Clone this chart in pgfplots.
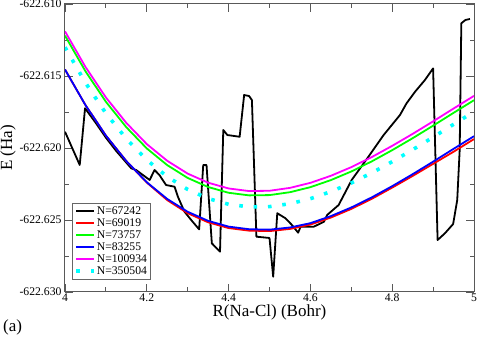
\documentclass[border=0pt]{standalone}
\usepackage{fontspec}
\setmainfont{Liberation Serif}
\usepackage{pgfplots}
\pgfplotsset{compat=1.18}
\definecolor{mag}{RGB}{255,0,255}
\definecolor{cyn}{RGB}{0,255,255}
\definecolor{grn}{RGB}{0,255,0}

% energies are kept as (E + 622.62 Ha) * 1000, i.e. mHa above -622.62 Ha,
% so that the tiny differences survive pgfplots' number precision
\begin{document}
\begin{tikzpicture}
\begin{axis}[
  at={(0,0)}, anchor=south west,
  width=409pt, height=288pt, scale only axis,
  xmin=4, xmax=5, ymin=-10, ymax=10,
  xtick={4,4.2,4.4,4.6,4.8,5}, xticklabels={4,4.2,4.4,4.6,4.8,5},
  ytick={-10,-5,0,5,10},
  yticklabels={-622.630,-622.625,-622.620,-622.615,-622.610},
  minor x tick num=1, minor y tick num=1,
  tick align=inside, major tick length=8pt, minor tick length=4.5pt,
  axis line style={black!65, line width=1pt},
  tick style={black!65, line width=0.8pt},
  ticklabel style={font=\fontsize{11.7}{13}\selectfont},
  xticklabel style={yshift=2pt},
  xlabel={R(Na-Cl) (Bohr)}, ylabel={E (Ha)},
  label style={font=\fontsize{17}{19}\selectfont},
  xlabel style={at={(axis description cs:0.5,-0.0834)}, anchor=base},
  ylabel style={at={(axis description cs:-0.1394,0.5)}, anchor=center},
  legend style={at={(axis description cs:0.018,0.044)}, anchor=south west,
    draw=black!60, line width=0.6pt, fill=white, inner sep=2pt, row sep=0pt,
    font=\fontsize{11.7}{12}\selectfont,
    nodes={inner sep=1.5pt, text height=8pt, text depth=1pt}},
  legend cell align=left,
  every axis plot/.append style={line width=1.8pt, line join=round},
]
\addplot[black] coordinates {
 (4.000,1.13) (4.036,-1.18) (4.049,2.76) (4.075,1.75) (4.100,0.72) (4.125,-0.20)
 (4.150,-1.02) (4.162,-1.41) (4.174,-1.53) (4.207,-2.22) (4.219,-1.53) (4.231,-1.88)
 (4.247,-2.57) (4.268,-2.69) (4.276,-3.38) (4.292,-4.42) (4.310,-5.05) (4.328,-5.65)
 (4.338,-1.18) (4.346,-1.18) (4.359,-6.62) (4.379,-7.20) (4.387,1.25) (4.397,0.90)
 (4.427,0.78) (4.438,3.68) (4.450,3.61) (4.457,3.33) (4.468,-6.16) (4.483,-6.20)
 (4.500,-6.25) (4.509,-8.94) (4.519,-4.53) (4.539,-4.88) (4.555,-5.35) (4.570,-5.88)
 (4.576,-5.47) (4.608,-5.47) (4.633,-5.12) (4.641,-4.65) (4.669,-3.96) (4.701,-2.22)
 (4.742,-0.60) (4.779,0.90) (4.819,2.29) (4.835,3.10) (4.856,3.91) (4.880,4.72)
 (4.900,5.53) (4.911,-6.39) (4.929,-5.92) (4.949,-5.28) (4.959,-3.61) (4.965,-0.14)
 (4.969,8.66) (4.979,8.89) (4.990,8.96)};
\addlegendentry{N=67242}
\addplot[red] coordinates {
 (4.00,5.45) (4.05,2.98) (4.10,0.86) (4.15,-0.91) (4.20,-2.40) (4.25,-3.62)
 (4.30,-4.53) (4.35,-5.16) (4.40,-5.56) (4.45,-5.74) (4.50,-5.77) (4.55,-5.62)
 (4.60,-5.32) (4.65,-4.83) (4.70,-4.23) (4.75,-3.53) (4.80,-2.75) (4.85,-1.94)
 (4.90,-1.10) (4.95,-0.26) (5.00,0.62)};
\addlegendentry{N=69019}
\addplot[grn] coordinates {
 (4.00,7.80) (4.05,5.33) (4.10,3.21) (4.15,1.44) (4.20,-0.03) (4.25,-1.19)
 (4.30,-2.08) (4.35,-2.71) (4.40,-3.11) (4.45,-3.29) (4.50,-3.27) (4.55,-3.07)
 (4.60,-2.72) (4.65,-2.23) (4.70,-1.63) (4.75,-0.93) (4.80,-0.15) (4.85,0.68)
 (4.90,1.55) (4.95,2.44) (5.00,3.32)};
\addlegendentry{N=73757}
\addplot[blue] coordinates {
 (4.00,5.45) (4.05,2.98) (4.10,0.86) (4.15,-0.91) (4.20,-2.38) (4.25,-3.54)
 (4.30,-4.43) (4.35,-5.06) (4.40,-5.46) (4.45,-5.64) (4.50,-5.67) (4.55,-5.52)
 (4.60,-5.22) (4.65,-4.73) (4.70,-4.13) (4.75,-3.43) (4.80,-2.65) (4.85,-1.82)
 (4.90,-0.95) (4.95,-0.06) (5.00,0.82)};
\addlegendentry{N=83255}
\addplot[mag] coordinates {
 (4.00,8.10) (4.05,5.63) (4.10,3.51) (4.15,1.74) (4.20,0.27) (4.25,-0.89)
 (4.30,-1.78) (4.35,-2.41) (4.40,-2.81) (4.45,-2.99) (4.50,-2.97) (4.55,-2.77)
 (4.60,-2.42) (4.65,-1.93) (4.70,-1.33) (4.75,-0.63) (4.80,0.15) (4.85,0.98)
 (4.90,1.85) (4.95,2.74) (5.00,3.62)};
\addlegendentry{N=100934}
\addplot[cyn, line width=3.6pt, dash pattern=on 3.6pt off 10.8pt] coordinates {
 (4.00,7.00) (4.05,4.53) (4.10,2.41) (4.15,0.64) (4.20,-0.83) (4.25,-1.99)
 (4.30,-2.88) (4.35,-3.51) (4.40,-3.91) (4.45,-4.09) (4.50,-4.07) (4.55,-3.87)
 (4.60,-3.52) (4.65,-3.03) (4.70,-2.43) (4.75,-1.73) (4.80,-0.95) (4.85,-0.12)
 (4.90,0.75) (4.95,1.64) (5.00,2.52)};
\addlegendentry{N=350504}
\end{axis}
\node[anchor=base west, font=\fontsize{17}{19}\selectfont, inner sep=0pt]
  at (-62pt,-40pt) {(a)};
\pgfresetboundingbox
\path[use as bounding box] (-65pt,-45pt) rectangle (414pt,292pt);
\end{tikzpicture}
\end{document}
